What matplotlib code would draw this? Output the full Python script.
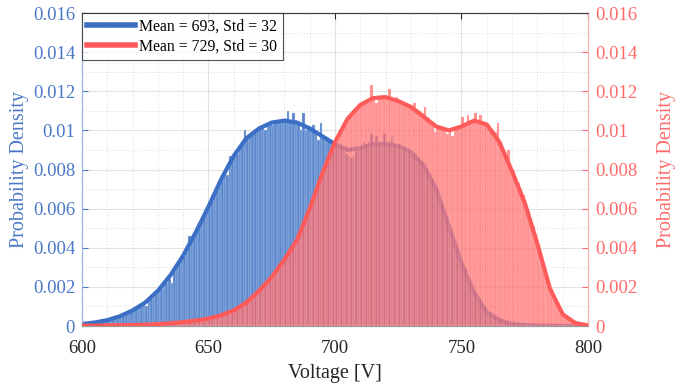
"""Voltage distributions of two groups: histograms with smoothed density curves."""

import numpy as np
import matplotlib
matplotlib.use("Agg")
import matplotlib.pyplot as plt
from matplotlib.lines import Line2D

plt.rcParams["font.family"] = ["Liberation Serif", "DejaVu Serif"]

# bin heights are stored in units of 1e-4 (probability density per volt)
UNIT = 1e-4
bin_left = np.arange(600, 800)  # 1 V bins, 600..799

blue_bins = [
    1, 1, 1, 2, 2, 2, 2, 3, 3, 3,
    3, 4, 4, 4, 5, 5, 6, 6, 7, 7,
    8, 9, 10, 10, 11, 10, 13, 14, 15, 17,
    18, 19, 21, 22, 24, 22, 28, 30, 32, 34,
    36, 38, 46, 45, 46, 48, 51, 53, 56, 59,
    61, 64, 67, 70, 72, 75, 79, 77, 87, 86,
    87, 88, 91, 93, 100, 96, 97, 99, 99, 100,
    101, 102, 100, 103, 104, 103, 104, 105, 104, 105,
    106, 110, 104, 109, 105, 104, 100, 109, 100, 102,
    101, 103, 99, 95, 104, 97, 95, 95, 94, 93,
    93, 92, 91, 90, 88, 87, 86, 87, 90, 91,
    91, 94, 92, 94, 98, 93, 97, 92, 94, 98,
    93, 94, 97, 92, 92, 92, 91, 91, 90, 90,
    89, 88, 86, 85, 84, 82, 80, 78, 75, 73,
    70, 67, 62, 58, 55, 51, 47, 43, 39, 36,
    32, 29, 25, 22, 19, 17, 14, 12, 10, 9,
    7, 6, 5, 4, 4, 3, 3, 2, 2, 1,
    1, 1, 1, 0.8, 0.6, 0.5, 0.4, 0.3, 0.2, 0.2,
    0.1, 0.1, 0.1, 0.1, 0.1, 0, 0, 0, 0, 0,
    0, 0, 0, 0, 0, 0, 0, 0, 0, 0,
]

red_bins = [
    0.2, 0.2, 0.2, 0.2, 0.2, 0.2, 0.2, 0.3, 0.3, 0.3,
    0.3, 0.3, 0.3, 0.4, 0.4, 0.4, 0.4, 0.5, 0.5, 0.5,
    0.5, 0.6, 0.6, 0.6, 0.7, 0.7, 0.8, 0.8, 0.9, 0.9,
    1, 1.1, 1.2, 1.2, 1.3, 1.4, 1.5, 1.6, 1.8, 1.9,
    2, 2.2, 2.3, 2.5, 2.7, 2.8, 3, 3.2, 3.4, 3.6,
    3.8, 4.1, 4.5, 4.8, 5.1, 5.5, 6, 6.4, 7, 7.5,
    8, 8.7, 9.5, 10.2, 11, 12, 13, 14, 15.5, 16.5,
    18, 19, 20.5, 22, 23.5, 25, 27, 29, 30, 32,
    34, 36, 38, 40, 42, 44, 47, 50, 54, 57,
    60, 64, 67, 71, 74, 78, 81, 85, 88, 91,
    94, 97, 99, 101, 104, 106, 108, 109, 111, 112,
    113, 114, 115, 116, 123, 116, 114, 117, 118, 117,
    116, 121, 117, 115, 117, 115, 114, 114, 113, 113,
    112, 114, 111, 110, 109, 112, 107, 105, 104, 99,
    102, 101, 101, 100, 98, 100, 97, 100, 101, 102,
    107, 103, 108, 104, 105, 109, 105, 108, 104, 104,
    103, 101, 100, 99, 104, 94, 91, 88, 90, 82,
    79, 76, 73, 70, 67, 63, 59, 55, 51, 47,
    42, 37, 32, 28, 23, 19, 16, 13, 10, 8,
    6, 5, 4, 3, 2, 1.5, 1.2, 0.8, 0.6, 0.4,
]

# smoothed density curves, read every 5 V
curve_v = np.arange(600, 801, 5)
blue_curve = [
    1, 1.8, 3, 5, 8, 12, 18, 26, 36, 48,
    61, 75, 87, 96, 101, 104, 105, 104, 101, 97,
    93, 90, 91, 93, 93, 92, 89, 82, 70, 51,
    32, 17, 7, 3, 1, 0.5, 0.2, 0.1, 0, 0,
    0,
]
red_curve = [
    0.2, 0.2, 0.3, 0.4, 0.5, 0.7, 1, 1.4, 2, 2.8,
    3.8, 5.5, 8, 12, 18, 25, 34, 44, 60, 78,
    94, 106, 113, 116.5, 117, 115, 112, 107, 102, 100,
    102, 105, 103, 94, 79, 63, 42, 19, 6, 1.5,
    0.3,
]

legend_labels = ["Mean = 693, Std = 32", "Mean = 729, Std = 30"]
y_ticks = [0, 0.002, 0.004, 0.006, 0.008, 0.01, 0.012, 0.014, 0.016]
y_tick_labels = ["0", "0.002", "0.004", "0.006", "0.008", "0.01", "0.012", "0.014", "0.016"]
x_ticks = [600, 650, 700, 750, 800]

BLUE_LINE = "#3b6fc6"
BLUE_BAR = "#5a87cc"
BLUE_TEXT = "#4a78c8"
RED_LINE = "#ff5a5a"
RED_BAR = "#ff6464"
RED_TEXT = "#ff6b6b"

fig = plt.figure(figsize=(6.81, 3.85), dpi=100)
ax1 = fig.add_axes([0.1204, 0.1532, 0.7430, 0.8130])
ax2 = ax1.twinx()

ax1.bar(bin_left, np.array(blue_bins) * UNIT, width=1.0, align="edge",
        color=BLUE_BAR, edgecolor="#c9d8f0", linewidth=0.25, zorder=2)
ax1.plot(curve_v, np.array(blue_curve) * UNIT, color=BLUE_LINE, lw=3, zorder=3)

ax2.bar(bin_left, np.array(red_bins) * UNIT, width=1.0, align="edge",
        color=RED_BAR, edgecolor="#ffd0d0", linewidth=0.25, alpha=0.72, zorder=2)
ax2.plot(curve_v, np.array(red_curve) * UNIT, color=RED_LINE, lw=3, zorder=3)

for ax in (ax1, ax2):
    ax.set_xlim(600, 800)
    ax.set_ylim(0, 0.016)
    ax.set_yticks(y_ticks)
    ax.set_yticklabels(y_tick_labels)

ax1.set_xticks(x_ticks)
ax1.set_xticks(np.arange(600, 801, 10), minor=True)
ax1.set_yticks(np.arange(0, 0.0161, 0.001), minor=True)
ax1.grid(which="major", color="#e2e2e2", lw=0.8)
ax1.grid(which="minor", color="#cfcfcf", lw=0.6, linestyle=(0, (1, 2.5)))
ax1.set_axisbelow(True)

ax1.tick_params(axis="x", which="major", direction="in", length=4, top=True,
                labelsize=13.5, colors="#262626", pad=10)
ax1.tick_params(axis="x", which="minor", length=0)
ax1.tick_params(axis="y", which="major", direction="in", length=4,
                labelsize=13.5, colors=BLUE_TEXT, pad=5)
ax1.tick_params(axis="y", which="minor", length=0)
ax2.tick_params(axis="y", which="major", direction="in", length=4,
                labelsize=13.5, colors=RED_TEXT, pad=5)
ax2.tick_params(axis="y", which="minor", length=0)

ax1.set_xlabel("Voltage [V]", fontsize=14.5, color="#262626", labelpad=5)
ax1.set_ylabel("Probability Density", fontsize=14.5, color=BLUE_TEXT, labelpad=3)
ax2.set_ylabel("Probability Density", fontsize=14.5, color=RED_TEXT, labelpad=14)

ax2.spines["left"].set_color("#9bb5e3")
ax2.spines["right"].set_color("#ffa8a8")
ax2.spines["top"].set_color("#404040")
ax2.spines["bottom"].set_color("#9a9a9a")
ax1.spines["left"].set_color("#9bb5e3")
ax1.spines["right"].set_visible(False)
ax1.spines["top"].set_color("#404040")
ax1.spines["bottom"].set_color("#9a9a9a")

handles = [Line2D([], [], color=BLUE_LINE, lw=4), Line2D([], [], color=RED_LINE, lw=4)]
leg = ax2.legend(handles, legend_labels, loc="upper left", fontsize=11.3,
                 frameon=True, fancybox=False, borderaxespad=0, handlelength=3.0,
                 handletextpad=0.3, borderpad=0.35, labelspacing=0.25)
leg.get_frame().set_edgecolor("#262626")
leg.get_frame().set_linewidth(0.8)

fig.savefig("out.png", dpi=100)
